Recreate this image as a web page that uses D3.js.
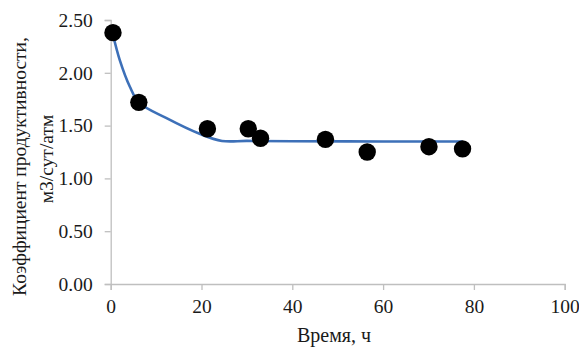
<!DOCTYPE html>
<html>
<head>
<meta charset="utf-8">
<script src="https://cdn.jsdelivr.net/npm/d3@7/dist/d3.min.js"></script>
<style>
  html, body { margin: 0; padding: 0; background: #fff; }
  svg { display: block; }
</style>
</head>
<body>
<svg id="chart" width="579" height="347"></svg>
<script>
// Measured productivity index over time
const timeHours = [0.5, 6.2, 21.3, 30.3, 33.0, 47.3, 56.5, 70.1, 77.5];
const productivity = [2.38, 1.72, 1.47, 1.47, 1.38, 1.37, 1.25, 1.30, 1.28];

// Fitted trend curve
const fitTime = [0.5, 2.0, 4.2, 6.2, 12.3, 19.7, 24.5, 30.0, 40.0, 60.0, 77.5];
const fitValue = [2.36, 2.12, 1.87, 1.72, 1.57, 1.42, 1.355, 1.355, 1.352, 1.35, 1.35];

const xTicks = [0, 20, 40, 60, 80, 100];
const yTicks = [0, 0.5, 1.0, 1.5, 2.0, 2.5];

const xTitle = "Время, ч";
const yTitleLines = ["Коэффициент продуктивности,", "м3/сут/атм"];

const svg = d3.select("#chart");
const plot = { left: 110.7, right: 564.7, top: 20, bottom: 284 };

const x = d3.scaleLinear().domain([0, 100]).range([plot.left, plot.right]);
const y = d3.scaleLinear().domain([0, 2.5]).range([plot.bottom, plot.top]);

const axisColor = "#bfbfbf";
const textColor = "#1a1a1a";
const serif = "Liberation Serif";

// Axes
const xAxis = svg.append("g")
  .attr("transform", `translate(0,${plot.bottom})`)
  .call(d3.axisBottom(x).tickValues(xTicks).tickSize(6).tickPadding(9).tickFormat(d3.format("d")));
const yAxis = svg.append("g")
  .attr("transform", `translate(${plot.left},0)`)
  .call(d3.axisLeft(y).tickValues(yTicks).tickSize(6).tickPadding(12).tickFormat(d3.format(".2f")));

[xAxis, yAxis].forEach(g => {
  g.attr("font-family", serif).attr("font-size", 19);
  g.select(".domain").attr("stroke", axisColor).attr("stroke-width", 1.3);
  g.selectAll(".tick line").attr("stroke", axisColor).attr("stroke-width", 1.3);
  g.selectAll(".tick text")
    .attr("fill", textColor)
    .attr("font-family", serif)
    .attr("font-size", 19.5);
});

// Trend line
const fitData = fitTime.map((t, i) => [t, fitValue[i]]);
svg.append("path")
  .datum(fitData)
  .attr("fill", "none")
  .attr("stroke", "#3d70b8")
  .attr("stroke-width", 2.6)
  .attr("d", d3.line().x(d => x(d[0])).y(d => y(d[1])).curve(d3.curveCatmullRom.alpha(0.5)));

// Measured points
svg.append("g").selectAll("circle")
  .data(timeHours.map((t, i) => [t, productivity[i]]))
  .join("circle")
  .attr("cx", d => x(d[0]))
  .attr("cy", d => y(d[1]))
  .attr("r", 8.7)
  .attr("fill", "#000");

// Axis titles
svg.append("text")
  .attr("x", 334)
  .attr("y", 341.5)
  .attr("text-anchor", "middle")
  .attr("fill", textColor)
  .attr("font-family", serif)
  .attr("font-size", 20)
  .text(xTitle);

const yTitlePos = [[26, 166.5], [53, 159]];
yTitleLines.forEach((line, i) => {
  svg.append("text")
    .attr("transform", `translate(${yTitlePos[i][0]},${yTitlePos[i][1]}) rotate(-90)`)
    .attr("text-anchor", "middle")
    .attr("fill", textColor)
    .attr("font-family", serif)
    .attr("font-size", 19.5)
    .text(line);
});
</script>
</body>
</html>
